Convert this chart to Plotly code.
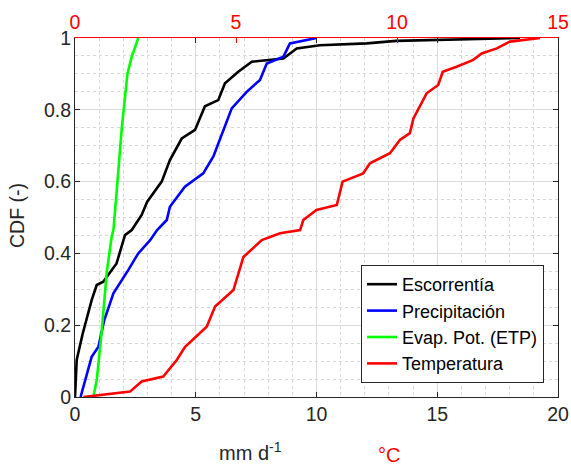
import plotly.graph_objects as go

# Escorrentía (mm d-1)
esc_x = [0, 0.07, 0.32, 0.69, 0.9, 1.17, 1.72, 2.07, 2.35, 2.76, 2.99, 3.59, 3.93, 4.42, 4.97,
         5.38, 5.93, 6.21, 6.76, 7.32, 8.63, 9.18, 10.14, 12.08, 13.3, 18.43]
esc_y = [0, 0.103, 0.177, 0.27, 0.312, 0.321, 0.372, 0.451, 0.465, 0.507, 0.544, 0.600, 0.66,
         0.72, 0.744, 0.81, 0.827, 0.874, 0.906, 0.934, 0.943, 0.971, 0.98, 0.985, 0.992, 1.0]

# Precipitación (mm d-1)
pre_x = [0.23, 0.48, 0.69, 0.97, 1.21, 1.38, 1.59, 2.21, 2.62, 3.11, 3.4, 3.8, 3.93, 4.55, 5.31,
         5.73, 6.14, 6.49, 7.11, 7.66, 7.94, 8.63, 8.9, 10.0]
pre_y = [0, 0.057, 0.112, 0.14, 0.214, 0.247, 0.289, 0.354, 0.4, 0.437, 0.465, 0.493, 0.53,
         0.586, 0.623, 0.67, 0.744, 0.804, 0.85, 0.883, 0.929, 0.948, 0.985, 1.0]

# Evap. Pot. (ETP) (mm d-1)
etp_x = [0.76, 0.9, 1.1, 1.31, 1.52, 1.59, 1.72, 1.93, 2.17, 2.35, 2.62]
etp_y = [0, 0.047, 0.178, 0.345, 0.447, 0.465, 0.567, 0.744, 0.9, 0.948, 1.0]

# Temperatura (°C)
tem_x = [0.26, 1.71, 2.07, 2.74, 3.16, 3.42, 4.09, 4.35, 4.92, 5.23, 5.8, 6.37, 6.99, 7.09, 7.5,
         8.13, 8.31, 8.95, 9.16, 9.78, 10.09, 10.4, 10.51, 10.92, 11.28, 11.42, 11.85, 12.37,
         12.63, 13.1, 13.51, 14.44]
tem_y = [0, 0.015, 0.043, 0.057, 0.103, 0.14, 0.196, 0.252, 0.298, 0.39, 0.437, 0.456, 0.465,
         0.493, 0.521, 0.535, 0.6, 0.623, 0.651, 0.679, 0.716, 0.735, 0.776, 0.846, 0.869, 0.906,
         0.92, 0.939, 0.957, 0.971, 0.99, 1.0]

bottom_ticks = [0, 5, 10, 15, 20]
top_ticks = [0, 5, 10, 15]
y_ticks = [0, 0.2, 0.4, 0.6, 0.8, 1]

FONT = "Liberation Sans, Arial, sans-serif"
DARK = "#262626"
LW = 2.6
TF = 19.5

fig = go.Figure()
fig.add_trace(go.Scatter(x=esc_x, y=esc_y, mode="lines", name="Escorrentía",
                         line=dict(color="black", width=LW)))
fig.add_trace(go.Scatter(x=pre_x, y=pre_y, mode="lines", name="Precipitación",
                         line=dict(color="#0000ff", width=LW)))
fig.add_trace(go.Scatter(x=etp_x, y=etp_y, mode="lines", name="Evap. Pot. (ETP)",
                         line=dict(color="#00ff00", width=LW)))
fig.add_trace(go.Scatter(x=tem_x, y=tem_y, mode="lines", name="Temperatura",
                         line=dict(color="#ff0000", width=LW), xaxis="x2"))

fig.update_layout(
    width=571, height=470,
    margin=dict(l=75, r=13, t=38, b=73),
    paper_bgcolor="white", plot_bgcolor="white",
    font=dict(family=FONT, size=TF, color=DARK),
    showlegend=True,
    legend=dict(x=0.971, y=0.039, xanchor="right", yanchor="bottom",
                bordercolor=DARK, borderwidth=1, bgcolor="white",
                font=dict(size=18, color="black"), tracegroupgap=0, itemwidth=30),
    xaxis=dict(range=[0, 20], tickvals=bottom_ticks, ticks="inside", ticklen=5,
               tickcolor=DARK, showline=True, linecolor=DARK, linewidth=1, mirror="ticks",
               showgrid=True, gridcolor="#dcdcdc", gridwidth=1, zeroline=False,
               automargin=False, tickfont=dict(size=TF, color=DARK),
               minor=dict(dtick=1, showgrid=True, gridcolor="#d8d8d8", griddash="dot",
                          gridwidth=1, ticks="")),
    xaxis2=dict(range=[0, 15], tickvals=top_ticks, overlaying="x", side="top",
                ticks="inside", ticklen=5, tickcolor="#ff0000", showline=True,
                linecolor="#ff0000", linewidth=1, showgrid=False, zeroline=False,
                automargin=False, tickfont=dict(size=TF, color="#ff0000")),
    yaxis=dict(range=[0, 1], tickvals=y_ticks, ticks="inside", ticklen=5, tickcolor=DARK,
               showline=True, linecolor=DARK, linewidth=1, mirror="ticks",
               showgrid=True, gridcolor="#dcdcdc", gridwidth=1, zeroline=False,
               automargin=False, tickfont=dict(size=TF, color=DARK), ticklabelstandoff=-1,
               minor=dict(dtick=0.05, showgrid=True, gridcolor="#d8d8d8", griddash="dot",
                          gridwidth=1, ticks="")),
    annotations=[
        dict(text="mm d<sup>-1</sup>", xref="paper", yref="paper",
             x=(250 - 75) / 483, y=-(452 - 397) / 359, xanchor="center", yanchor="middle",
             showarrow=False, font=dict(size=20, color=DARK)),
        dict(text="°C", xref="paper", yref="paper",
             x=(389 - 75) / 483, y=-(455 - 397) / 359, xanchor="center", yanchor="middle",
             showarrow=False, font=dict(size=20, color="#ff0000")),
        dict(text="CDF (-)", xref="paper", yref="paper", textangle=-90,
             x=-(75 - 17) / 483, y=(397 - 216) / 359, xanchor="center", yanchor="middle",
             showarrow=False, font=dict(size=19.5, color=DARK)),
    ],
)

fig.write_html("out.html")
